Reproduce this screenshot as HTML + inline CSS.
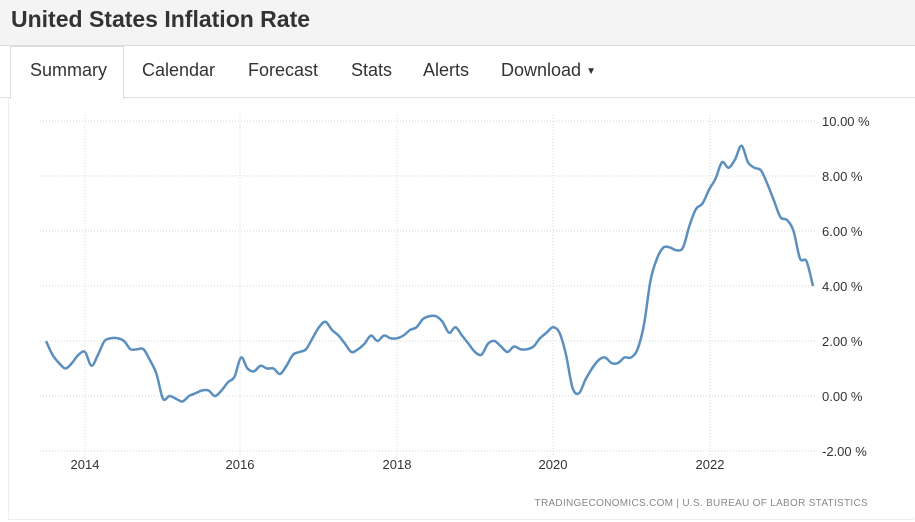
<!DOCTYPE html>
<html><head><style>
body{margin:0;width:915px;height:522px;background:#fff;font-family:"Liberation Sans",sans-serif;overflow:hidden;position:relative}
.hdr{position:absolute;left:0;top:0;width:915px;height:45px;background:#f4f4f4;border-bottom:1px solid #ddd}
.hdr h1{margin:0;position:absolute;left:11px;top:6px;font-size:23px;font-weight:bold;color:#333}
.tabs{position:absolute;left:0;top:46px;width:915px;height:51px;border-bottom:1px solid #ddd}
.tab{position:absolute;top:14px;font-size:18px;color:#333}
.act{position:absolute;left:10px;top:46px;width:112px;height:52px;background:#fff;border:1px solid #ddd;border-bottom:none}
.card{position:absolute;left:8px;top:98px;width:905px;height:421px;border-left:1px solid #eee;border-bottom:1px solid #eee}
</style></head><body>
<div class="hdr"><h1>United States Inflation Rate</h1></div>
<div class="tabs"></div>
<div class="act"></div>
<div class="card"></div>
<div class="tab" style="left:30px;top:60px">Summary</div>
<div class="tab" style="left:142px;top:60px">Calendar</div>
<div class="tab" style="left:248px;top:60px">Forecast</div>
<div class="tab" style="left:351px;top:60px">Stats</div>
<div class="tab" style="left:423px;top:60px">Alerts</div>
<div class="tab" style="left:501px;top:60px">Download <span style="font-size:10px;vertical-align:2px">▼</span></div>
<svg id="c" width="915" height="522" style="position:absolute;left:0;top:0" font-family="Liberation Sans, sans-serif">
<g stroke="#d6d6d6" stroke-dasharray="1,2" stroke-width="1">
<line x1="40" x2="815" y1="121" y2="121"/><line x1="40" x2="815" y1="176" y2="176"/><line x1="40" x2="815" y1="231" y2="231"/><line x1="40" x2="815" y1="286" y2="286"/><line x1="40" x2="815" y1="341" y2="341"/><line x1="40" x2="815" y1="396" y2="396"/><line x1="40" x2="815" y1="451" y2="451"/>
<line x1="85" x2="85" y1="115" y2="455"/><line x1="240" x2="240" y1="115" y2="455"/><line x1="397" x2="397" y1="115" y2="455"/><line x1="553" x2="553" y1="115" y2="455"/><line x1="710" x2="710" y1="115" y2="455"/>
</g>
<g font-size="13" fill="#333">
<text x="822" y="126">10.00 %</text><text x="822" y="181">8.00 %</text><text x="822" y="236">6.00 %</text><text x="822" y="291">4.00 %</text><text x="822" y="346">2.00 %</text><text x="822" y="401">0.00 %</text><text x="822" y="456">-2.00 %</text>
</g>
<g font-size="13" fill="#333" text-anchor="middle">
<text x="85" y="469">2014</text><text x="240" y="469">2016</text><text x="397" y="469">2018</text><text x="553" y="469">2020</text><text x="710" y="469">2022</text>
</g>
<text x="868" y="506" font-size="10" fill="#888" text-anchor="end" letter-spacing="0.3">TRADINGECONOMICS.COM  |  U.S. BUREAU OF LABOR STATISTICS</text>
<path id="p" fill="none" stroke="#5b8fbe" stroke-width="2.5" stroke-linejoin="round"/>
</svg>
<script>
var v=[2.0,1.5,1.2,1.0,1.2,1.5,
1.6,1.1,1.5,2.0,2.1,2.1,2.0,1.7,1.7,1.7,1.3,0.8,
-0.1,0.0,-0.1,-0.2,0.0,0.1,0.2,0.2,0.0,0.2,0.5,0.7,
1.4,1.0,0.9,1.1,1.0,1.0,0.8,1.1,1.5,1.6,1.7,2.1,
2.5,2.7,2.4,2.2,1.9,1.6,1.7,1.9,2.2,2.0,2.2,2.1,
2.1,2.2,2.4,2.5,2.8,2.9,2.9,2.7,2.3,2.5,2.2,1.9,
1.6,1.5,1.9,2.0,1.8,1.6,1.8,1.7,1.7,1.8,2.1,2.3,
2.5,2.3,1.5,0.3,0.1,0.6,1.0,1.3,1.4,1.2,1.2,1.4,
1.4,1.7,2.6,4.2,5.0,5.4,5.4,5.3,5.4,6.2,6.8,7.0,
7.5,7.9,8.5,8.3,8.6,9.1,8.5,8.3,8.2,7.7,7.1,6.5,
6.4,6.0,5.0,4.9,4.0];
var P=v.map(function(a,i){return [46+i*6.5,396-a*27.5]});
var d="M"+P[0][0]+","+P[0][1];
for(var i=0;i<P.length-1;i++){var p0=P[i-1]||P[i],p1=P[i],p2=P[i+1],p3=P[i+2]||p2;
d+=" C"+(p1[0]+(p2[0]-p0[0])/6)+","+(p1[1]+(p2[1]-p0[1])/6)+" "+(p2[0]-(p3[0]-p1[0])/6)+","+(p2[1]-(p3[1]-p1[1])/6)+" "+p2[0]+","+p2[1];}
document.getElementById("p").setAttribute("d",d);
</script>
</body></html>
